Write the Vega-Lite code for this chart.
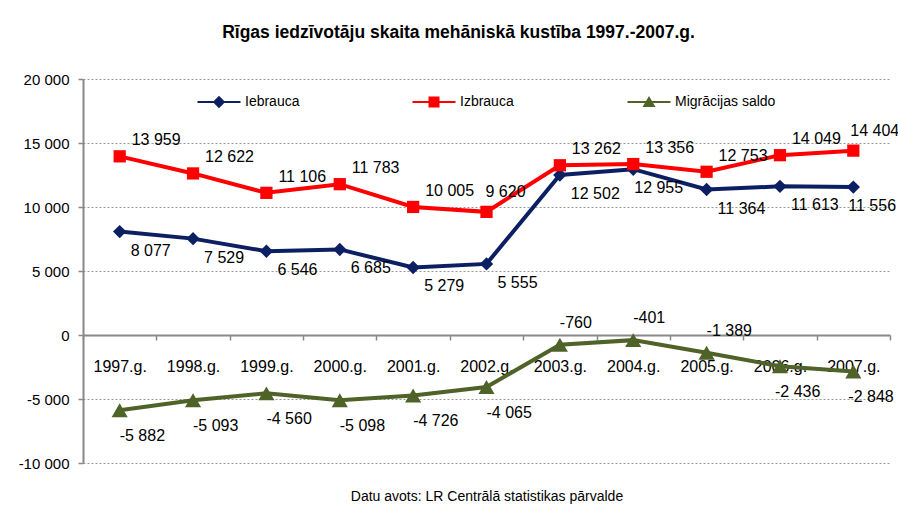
{
  "$schema": "https://vega.github.io/schema/vega-lite/v6.json",
  "width": 807,
  "height": 384,
  "autosize": "none",
  "padding": {"left": 83, "top": 79, "right": 8, "bottom": 50},
  "background": "white",
  "title": {
    "text": "Rīgas iedzīvotāju skaita mehāniskā kustība 1997.-2007.g.",
    "font": "Liberation Sans",
    "fontSize": 17.5,
    "fontWeight": "bold",
    "color": "black",
    "anchor": "middle",
    "frame": "group",
    "dx": -28,
    "offset": 31
  },
  "config": {
    "locale": {"number": {"decimal": ",", "thousands": " ", "grouping": [3], "currency": ["", ""], "minus": "-"}},
    "view": {"stroke": null},
    "font": "Liberation Sans"
  },
  "data": {
    "values": [
      {"year": "1997.g.", "series": "Iebrauca", "value": 8077},
      {"year": "1998.g.", "series": "Iebrauca", "value": 7529},
      {"year": "1999.g.", "series": "Iebrauca", "value": 6546},
      {"year": "2000.g.", "series": "Iebrauca", "value": 6685},
      {"year": "2001.g.", "series": "Iebrauca", "value": 5279},
      {"year": "2002.g.", "series": "Iebrauca", "value": 5555},
      {"year": "2003.g.", "series": "Iebrauca", "value": 12502},
      {"year": "2004.g.", "series": "Iebrauca", "value": 12955},
      {"year": "2005.g.", "series": "Iebrauca", "value": 11364},
      {"year": "2006.g.", "series": "Iebrauca", "value": 11613},
      {"year": "2007.g.", "series": "Iebrauca", "value": 11556},
      {"year": "1997.g.", "series": "Izbrauca", "value": 13959},
      {"year": "1998.g.", "series": "Izbrauca", "value": 12622},
      {"year": "1999.g.", "series": "Izbrauca", "value": 11106},
      {"year": "2000.g.", "series": "Izbrauca", "value": 11783},
      {"year": "2001.g.", "series": "Izbrauca", "value": 10005},
      {"year": "2002.g.", "series": "Izbrauca", "value": 9620},
      {"year": "2003.g.", "series": "Izbrauca", "value": 13262},
      {"year": "2004.g.", "series": "Izbrauca", "value": 13356},
      {"year": "2005.g.", "series": "Izbrauca", "value": 12753},
      {"year": "2006.g.", "series": "Izbrauca", "value": 14049},
      {"year": "2007.g.", "series": "Izbrauca", "value": 14404},
      {"year": "1997.g.", "series": "Migrācijas saldo", "value": -5882},
      {"year": "1998.g.", "series": "Migrācijas saldo", "value": -5093},
      {"year": "1999.g.", "series": "Migrācijas saldo", "value": -4560},
      {"year": "2000.g.", "series": "Migrācijas saldo", "value": -5098},
      {"year": "2001.g.", "series": "Migrācijas saldo", "value": -4726},
      {"year": "2002.g.", "series": "Migrācijas saldo", "value": -4065},
      {"year": "2003.g.", "series": "Migrācijas saldo", "value": -760},
      {"year": "2004.g.", "series": "Migrācijas saldo", "value": -401},
      {"year": "2005.g.", "series": "Migrācijas saldo", "value": -1389},
      {"year": "2006.g.", "series": "Migrācijas saldo", "value": -2436},
      {"year": "2007.g.", "series": "Migrācijas saldo", "value": -2848}
    ]
  },
  "resolve": {"axis": {"x": "independent"}},
  "encoding": {
    "y": {
      "field": "value", "type": "quantitative",
      "scale": {"domain": [-10000, 20000], "nice": false, "zero": false},
      "axis": {
        "title": null, "values": [-10000, -5000, 0, 5000, 10000, 15000, 20000], "format": ",d",
        "domainColor": "#888888", "domainWidth": 2,
        "tickColor": "#888888", "tickSize": 5, "tickWidth": 1.5,
        "gridColor": "#999999", "gridDash": [2, 2], "gridWidth": 1,
        "labelPadding": 9, "labelFontSize": 15, "labelColor": "black", "labelFont": "Liberation Sans"
      }
    }
  },
  "layer": [
    {
      "mark": {"type": "point", "filled": true, "opacity": 0},
      "encoding": {
        "x": {
          "field": "year", "type": "ordinal", "sort": null,
          "scale": {"type": "band", "paddingInner": 0, "paddingOuter": 0},
          "axis": null
        },
        "color": {
          "field": "series", "type": "nominal",
          "scale": {"domain": ["Iebrauca", "Izbrauca", "Migrācijas saldo"], "range": ["#0C1F63", "#FF0000", "#4F6228"]},
          "legend": {
            "title": null, "orient": "none", "direction": "horizontal", "legendX": 126, "legendY": 13,
            "padding": 0, "columnPadding": 66, "gridAlign": "all",
            "symbolSize": 400, "symbolOpacity": 1, "symbolStrokeWidth": 0,
            "labelOffset": 16, "labelFontSize": 14, "labelColor": "black", "labelFont": "Liberation Sans",
            "labelLimit": 200
          }
        },
        "shape": {
          "field": "series", "type": "nominal", "legend": null,
          "scale": {
            "domain": ["Iebrauca", "Izbrauca", "Migrācijas saldo"],
            "range": [
              "M-2.15,-0.1H2.15V0.1H-2.15Z M0,-0.62L0.62,0L0,0.62L-0.62,0Z",
              "M-2.15,-0.1H2.15V0.1H-2.15Z M-0.55,-0.55H0.55V0.55H-0.55Z",
              "M-2.15,-0.1H2.15V0.1H-2.15Z M0,-0.6L0.65,0.5H-0.65Z"
            ]
          }
        }
      }
    },
    {
      "mark": {"type": "line", "strokeWidth": 4},
      "encoding": {
        "x": {
          "field": "year", "type": "ordinal", "sort": null,
          "axis": {
            "orient": "bottom", "offset": -128, "title": null, "labelAngle": 0,
            "domainColor": "#888888", "domainWidth": 2,
            "tickColor": "#888888", "tickSize": 5, "tickWidth": 1.5, "tickBand": "extent",
            "labelPadding": 18, "labelFontSize": 16, "labelColor": "black", "labelFont": "Liberation Sans",
            "grid": false
          }
        },
        "color": {"field": "series", "type": "nominal"}
      }
    },
    {
      "transform": [{"filter": "datum.series === 'Iebrauca'"}],
      "mark": {"type": "point", "filled": true, "opacity": 1, "shape": "diamond", "size": 180},
      "encoding": {
        "x": {"field": "year", "type": "ordinal", "sort": null, "axis": null},
        "color": {"field": "series", "type": "nominal"}
      }
    },
    {
      "transform": [{"filter": "datum.series === 'Izbrauca'"}],
      "mark": {"type": "point", "filled": true, "opacity": 1, "shape": "square", "size": 150},
      "encoding": {
        "x": {"field": "year", "type": "ordinal", "sort": null, "axis": null},
        "color": {"field": "series", "type": "nominal"}
      }
    },
    {
      "transform": [{"filter": "datum.series === 'Migrācijas saldo'"}],
      "mark": {"type": "point", "filled": true, "opacity": 1, "shape": "triangle-up", "size": 260},
      "encoding": {
        "x": {"field": "year", "type": "ordinal", "sort": null, "axis": null},
        "color": {"field": "series", "type": "nominal"}
      }
    },
    {
      "transform": [{"filter": "datum.series === 'Iebrauca'"}],
      "mark": {
        "type": "text", "align": "left", "baseline": "middle", "fontSize": 16, "color": "black", "font": "Liberation Sans",
        "dx": {"expr": "datum.year === '2007.g.' ? -5 : datum.year === '2004.g.' ? 1 : 11"},
        "dy": 19
      },
      "encoding": {
        "x": {
          "field": "year", "type": "ordinal", "sort": null,
          "axis": {
            "orient": "bottom", "domain": false, "ticks": false, "labels": false, "grid": false,
            "title": "Datu avots: LR Centrālā statistikas pārvalde",
            "titleFont": "Liberation Sans", "titleFontSize": 14, "titleFontWeight": "normal", "titleColor": "black",
            "titlePadding": 26
          }
        },
        "text": {"field": "value", "type": "quantitative", "format": ","}
      }
    },
    {
      "transform": [{"filter": "datum.series === 'Izbrauca'"}],
      "mark": {
        "type": "text", "align": "left", "baseline": "middle", "fontSize": 16, "color": "black", "font": "Liberation Sans",
        "dx": {"expr": "datum.year === '2007.g.' ? -3 : datum.year === '2002.g.' ? -1 : 12"},
        "dy": {"expr": "datum.year === '2007.g.' || datum.year === '2002.g.' ? -20 : -16"}
      },
      "encoding": {
        "x": {"field": "year", "type": "ordinal", "sort": null, "axis": null},
        "text": {"field": "value", "type": "quantitative", "format": ","}
      }
    },
    {
      "transform": [{"filter": "datum.series === 'Migrācijas saldo'"}],
      "mark": {
        "type": "text", "align": "left", "baseline": "middle", "fontSize": 16, "color": "black", "font": "Liberation Sans",
        "dx": {"expr": "datum.year === '2006.g.' || datum.year === '2007.g.' ? -5 : 0"},
        "dy": {"expr": "indexof(['2003.g.', '2004.g.', '2005.g.'], datum.year) >= 0 ? -22 : 26"}
      },
      "encoding": {
        "x": {"field": "year", "type": "ordinal", "sort": null, "axis": null},
        "text": {"field": "value", "type": "quantitative", "format": ","}
      }
    }
  ]
}
